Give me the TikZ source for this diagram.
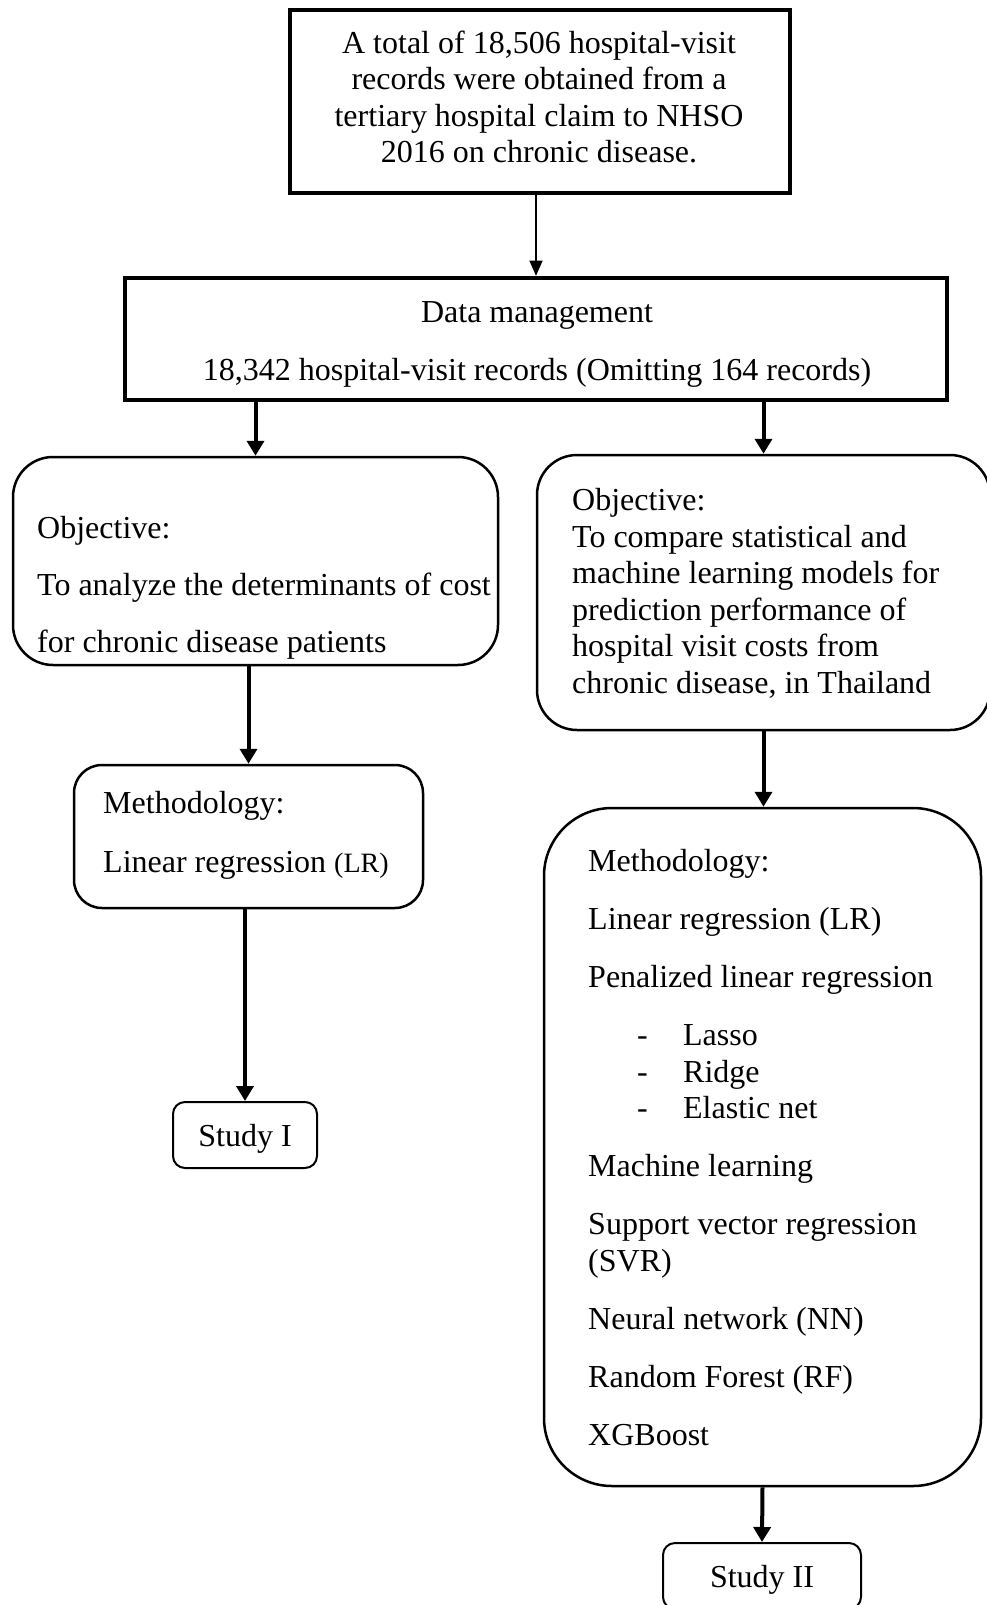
\documentclass[tikz,border=0pt]{standalone}
\usepackage{fontspec}
\setmainfont{Liberation Serif}
\usetikzlibrary{arrows.meta}

\tikzset{
  sqbox/.style={draw, line width=4pt, inner sep=0pt},
  rbox/.style={draw, line width=2.5pt, inner sep=0pt, rounded corners=#1},
  rbox/.default=40pt,
  txt/.style={inner sep=0pt, align=left, anchor=base west},
  studybox/.style={rbox=12pt, line width=2pt, minimum height=66pt, text depth=0pt},
  fat/.style={-{Triangle[width=17pt,length=15pt]}, line width=4pt},
  slim/.style={-{Triangle[width=13pt,length=15pt]}, line width=1.3pt},
}

\begin{document}
\begin{tikzpicture}[x=1pt, y=-1pt, font=\fontsize{32}{36.5}\selectfont]
\useasboundingbox (0,0) rectangle (987,1605);

% boxes
\node[sqbox, minimum width=500pt, minimum height=183pt] (total) at (539.5,101.5) {};
\node[sqbox, line width=4.5pt, minimum width=822pt, minimum height=122pt] (manage) at (536,339) {};
\node[rbox, minimum width=485pt, minimum height=208pt] (objA) at (255.5,561) {};
\node[rbox, minimum width=453pt, minimum height=275pt] (objB) at (763.5,592.5) {};
\node[rbox=28pt, minimum width=349pt, minimum height=143pt] (methA) at (248.5,836.5) {};
\node[rbox=68pt, minimum width=437pt, minimum height=678pt] (methB) at (762.5,1147) {};
\node[studybox, minimum width=144pt] (studyA) at (245,1135) {Study I};
\node[studybox, minimum width=198pt] (studyB) at (762,1576) {Study II};

% texts (placed by the baseline of their last line)
\node[txt, anchor=base, align=center] (totalTxt) at (539,163)
  {A total of 18,506 hospital-visit\\records were obtained from a\\tertiary hospital claim to NHSO\\2016 on chronic disease.};
\node[txt, anchor=base, align=center] (manageTxt) at (537,380)
  {Data management\\[21.5pt]18,342 hospital-visit records (Omitting 164 records)};
\node[txt] (objATxt) at (37,652)
  {Objective:\\[20.5pt]To analyze the determinants of cost\\[20.5pt]for chronic disease patients};
\node[txt] (objBTxt) at (572,693)
  {Objective:\\To compare statistical and\\machine learning models for\\prediction performance of\\hospital visit costs from\\chronic disease, in Thailand};
\node[txt] (methATxt) at (103,872)
  {Methodology:\\[22.5pt]Linear regression {\fontsize{28}{30}\selectfont(LR)}};
\node[txt] (methBTxt) at (588,1445)
  {Methodology:\\[21.5pt]Linear regression (LR)\\[21.5pt]Penalized linear regression\\[21.5pt]%
   \hspace*{49pt}\makebox[46pt][l]{-}Lasso\\
   \hspace*{49pt}\makebox[46pt][l]{-}Ridge\\
   \hspace*{49pt}\makebox[46pt][l]{-}Elastic net\\[21.5pt]%
   Machine learning\\[21.5pt]Support vector regression\\(SVR)\\[21.5pt]%
   Neural network (NN)\\[21.5pt]Random Forest (RF)\\[21.5pt]XGBoost};

% connectors
\draw[slim] (manage.north |- total.south) -- (manage.north);
\draw[fat] (objA.north |- manage.south) -- (objA.north);
\draw[fat] (objB.north |- manage.south) -- (objB.north);
\draw[fat] (methA.north |- objA.south) -- (methA.north);
\draw[fat] (studyA.north |- methA.south) -- (studyA.north);
\draw[fat] (objB.south) -- (objB.south |- methB.north);
\draw[fat] (methB.south) -- (studyB.north);
\end{tikzpicture}
\end{document}
